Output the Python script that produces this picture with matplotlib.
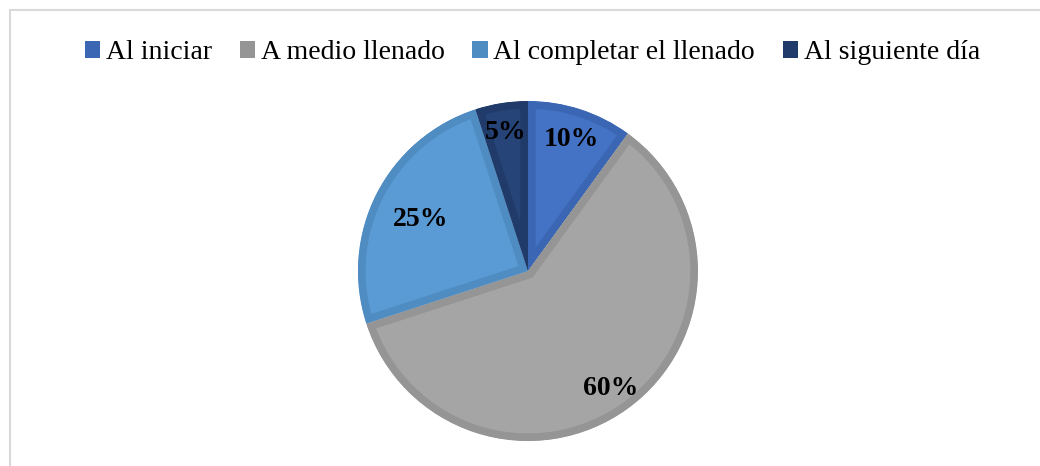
import numpy as np
import matplotlib.pyplot as plt
from matplotlib.patches import Patch, Rectangle

# === datos ===
etiquetas = ["Al iniciar", "A medio llenado", "Al completar el llenado", "Al siguiente día"]
valores = [10, 60, 25, 5]
colores = ["#4472C4", "#A5A5A5", "#5B9BD5", "#264478"]
bordes = ["#3B66B3", "#959595", "#4F8CC2", "#203B69"]
dist_pct = [0.83, 0.83, 0.71, 0.84]   # distancia de cada etiqueta al centro

plt.rcParams['font.family'] = ['Liberation Serif', 'DejaVu Serif']

fig = plt.figure(figsize=(10.4, 4.66), dpi=100)
ax = fig.add_axes([0.3442, 0.0536, 0.3269, 0.7296])

wedges, _ = ax.pie(valores, colors=colores, startangle=90, counterclock=False,
                   radius=1.0, wedgeprops=dict(linewidth=0))

# borde interior mas oscuro (trazo recortado a la propia cuña)
for w, b in zip(wedges, bordes):
    w.set_edgecolor(b)
    w.set_linewidth(11)
    w.set_clip_on(True)
    w.set_clip_path(w)

# porcentajes
for w, v, d in zip(wedges, valores, dist_pct):
    ang = np.deg2rad((w.theta1 + w.theta2) / 2)
    ax.text(d * np.cos(ang), d * np.sin(ang), f"{v}%", ha='center', va='center_baseline',
            fontsize=20, fontweight='bold', color='black')

ax.set_xlim(-1, 1)
ax.set_ylim(-1, 1)
ax.set_aspect('equal')
ax.axis('off')

# leyenda arriba
handles = [Patch(facecolor=c, edgecolor='none') for c in bordes]
fig.legend(handles, etiquetas, loc='center', bbox_to_anchor=(0.512, 0.887), ncol=4,
           frameon=False, fontsize=20, handlelength=0.55, handleheight=0.55,
           handletextpad=0.2, columnspacing=1.0)

# marco del gráfico
fig.patches.append(Rectangle((9.5 / 1040, -0.1), 1.2, (466 - 9.5) / 466 + 0.1,
                             transform=fig.transFigure, fill=False,
                             edgecolor='#D9D9D9', linewidth=1.5))

fig.savefig("out.png", dpi=100)
